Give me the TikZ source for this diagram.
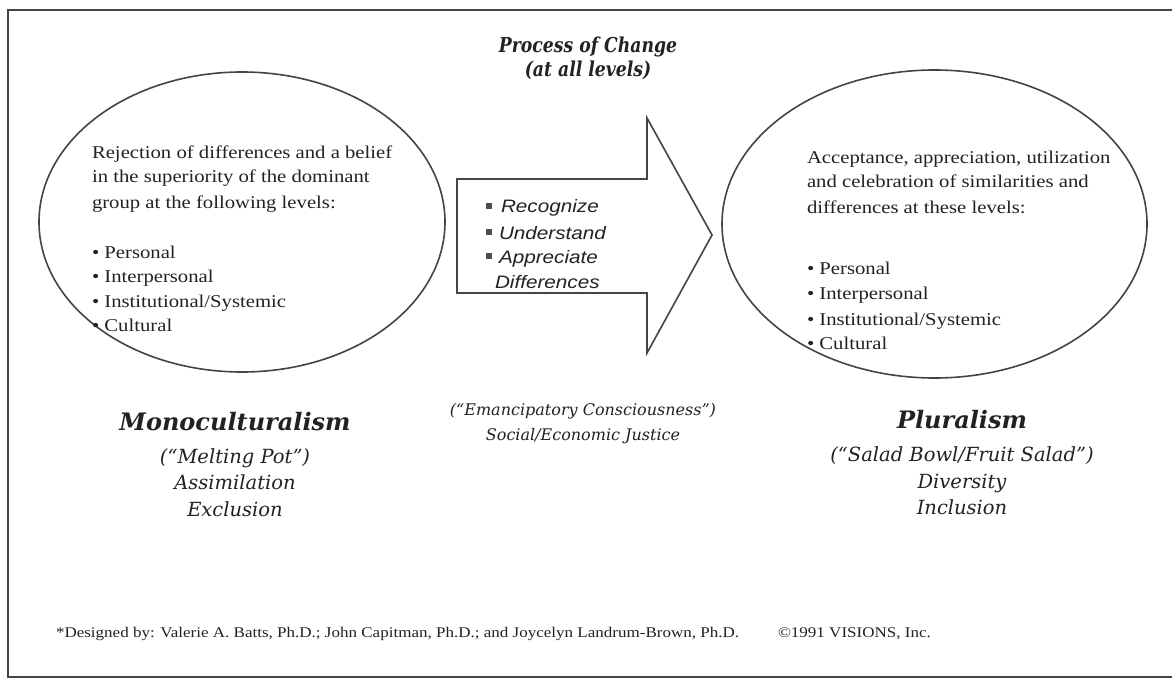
\documentclass[tikz,border=0pt]{standalone}
\usepackage{fontspec}
\setmainfont{Liberation Serif}[FakeStretch=1.15]
\newfontfamily\sansfam{Liberation Sans}[FakeStretch=1.15]
\newfontfamily\labelfam{DejaVu Serif}
\newfontfamily\titlefam{DejaVu Serif}[FakeStretch=0.84]
\definecolor{ink}{HTML}{222222}
\definecolor{rule}{HTML}{444444}
\begin{document}
\begin{tikzpicture}[x=1pt,y=-1pt,
  every node/.style={inner sep=0pt,outer sep=0pt,text=ink},
  body/.style={anchor=base west,font=\fontsize{18}{22}\selectfont},
  steptext/.style={anchor=base west,font=\sansfam\itshape\fontsize{18}{21}\selectfont},
  heading/.style={anchor=base,font=\titlefam\bfseries\itshape\fontsize{20.5}{24}\selectfont},
  bigname/.style={anchor=base,font=\labelfam\bfseries\itshape\fontsize{24}{28}\selectfont},
  sublabel/.style={anchor=base,font=\labelfam\itshape\fontsize{19.5}{23}\selectfont},
  midlabel/.style={anchor=base,font=\labelfam\itshape\fontsize{16}{19}\selectfont},
  foot/.style={anchor=base west,font=\fontsize{14.8}{17}\selectfont},
  outline/.style={draw=rule,line width=1.6pt},
  sq/.style={fill=ink!80,minimum size=5.5pt,inner sep=0pt}]
\useasboundingbox (0,0) rectangle (1172,679);
\fill[white] (0,0) rectangle (1172,679);

% page frame (open on the right)
\draw[rule,line width=2pt] (1172,10) -- (8,10) -- (8,677) -- (1172,677);

% title
\node[heading] (t1) at (588,53) {Process of Change};
\node[heading] (t2) at (588,77) {(at all levels)};

% two ellipses
\draw[outline] (242,222) ellipse [x radius=203, y radius=150];
\coordinate (monoC) at (242,222);
\draw[outline] (934.5,224) ellipse [x radius=212.5, y radius=154];
\coordinate (pluC) at (934.5,224);

% block arrow
\draw[outline,line join=miter] (457,179) -- (647,179) -- (647,118) -- (712,235)
  -- (647,353) -- (647,293) -- (457,293) -- cycle;

% left ellipse text
\node[body] (l1) at (92,159) {Rejection of differences and a belief};
\node[body] (l2) at (92,183) {in the superiority of the dominant};
\node[body] (l3) at (92,208) {group at the following levels:};
\node[body] (l4) at (92,258) {• Personal};
\node[body] (l5) at (92,282) {• Interpersonal};
\node[body] (l6) at (92,307) {• Institutional/Systemic};
\node[body] (l7) at (92,331) {• Cultural};

% right ellipse text
\node[body] (r1) at (807,164) {Acceptance, appreciation, utilization};
\node[body] (r2) at (807,188) {and celebration of similarities and};
\node[body] (r3) at (807,213) {differences at these levels:};
\node[body] (r4) at (807,274) {• Personal};
\node[body] (r5) at (807,299) {• Interpersonal};
\node[body] (r6) at (807,325) {• Institutional/Systemic};
\node[body] (r7) at (807,349) {• Cultural};

% steps inside the arrow
\node[sq] (s1) at (489,206) {};
\node[steptext] (a1) at (501,212) {Recognize};
\node[sq] (s2) at (489,232) {};
\node[steptext] (a2) at (499,239) {Understand};
\node[sq] (s3) at (489,256) {};
\node[steptext] (a3) at (499,263) {Appreciate};
\node[steptext] (a4) at (495,288) {Differences};

% labels under the left ellipse
\node[bigname] (m1) at (235,430) {Monoculturalism};
\node[sublabel] (m2) at (235,463) {(“Melting Pot”)};
\node[sublabel] (m3) at (235,489) {Assimilation};
\node[sublabel] (m4) at (235,516) {Exclusion};

% centre labels
\node[midlabel] (c1) at (583,415) {(“Emancipatory Consciousness”)};
\node[midlabel] (c2) at (583,440) {Social/Economic Justice};

% labels under the right ellipse
\node[bigname] (p1) at (962,428) {Pluralism};
\node[sublabel] (p2) at (962,461) {(“Salad Bowl/Fruit Salad”)};
\node[sublabel] (p3) at (962,488) {Diversity};
\node[sublabel] (p4) at (962,514) {Inclusion};

% credits
\node[foot] (f1) at (56,637) {*Designed by: Valerie A. Batts, Ph.D.; John Capitman, Ph.D.; and Joycelyn Landrum-Brown, Ph.D.};
\node[foot] (f2) at (778,637) {©1991 VISIONS, Inc.};
\end{tikzpicture}
\end{document}
